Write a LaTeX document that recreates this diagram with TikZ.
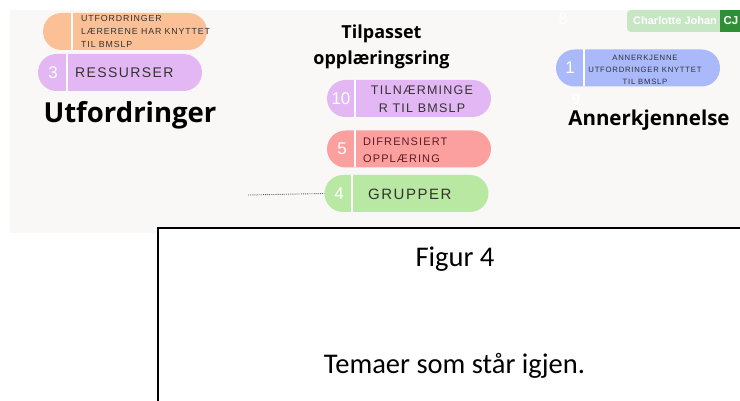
\documentclass[tikz,border=0pt]{standalone}
\usepackage{fontspec}
\setmainfont{Carlito}
\newfontfamily\pillfont[LetterSpace=10]{Liberation Sans}
\newfontfamily\numfont{Liberation Sans}
\newfontfamily\headfont{Open Sans}
\usetikzlibrary{shapes.misc}
\definecolor{bg}{HTML}{F9F8F6}
\definecolor{corange}{HTML}{FCC096}
\definecolor{cpurple}{HTML}{E3B7F3}
\definecolor{cred}{HTML}{FC9F9F}
\definecolor{cgreen}{HTML}{B9E8A2}
\definecolor{cblue}{HTML}{A9B9F9}
\definecolor{ctxt}{HTML}{333333}
\definecolor{credtxt}{HTML}{5A1E24}
\definecolor{tagg}{HTML}{C7E6C3}
\definecolor{cjg}{HTML}{2F8F35}
\begin{document}
\begin{tikzpicture}[x=1pt,y=-1pt,
  pill/.style={rounded rectangle, minimum width=164pt, minimum height=37pt, inner sep=0pt, fill=#1},
  num/.style={text=white, font=\numfont\fontsize{17}{17}\selectfont, inner sep=0pt},
  ptxt/.style={text=ctxt, inner sep=0pt},
  divider/.style={white, line width=1.5pt},
  head/.style={text=black, inner sep=0pt, anchor=base},
  boxtxt/.style={font=\fontsize{28.5}{32}\selectfont, text=black, inner sep=0pt, anchor=base}]
\useasboundingbox (0,0) rectangle (740,401);
\fill[white] (0,0) rectangle (740,401);
\fill[bg] (10,10) rectangle (740,233);

% top right tag
\node[text=white, font=\numfont\fontsize{16}{16}\selectfont, inner sep=0pt] (n8) at (563,19) {8};
\fill[tagg, rounded corners=4pt] (627,10) rectangle (724,32);
\node[text=white, font=\numfont\bfseries\fontsize{11}{11}\selectfont, inner sep=0pt, anchor=west] (cname) at (633,21) {Charlotte Johan};
\fill[cjg] (720,10) rectangle (740,32);
\node[text=white, font=\numfont\bfseries\fontsize{11.5}{11.5}\selectfont, inner sep=0pt] (cj) at (731,21) {CJ};

% orange pill
\node[pill=corange] (po) at (125,31.5) {};
\draw[divider] (72,13) -- (72,50);
\node[ptxt, anchor=west, align=left, font=\pillfont\fontsize{8.8}{13}\selectfont] (to) at (81,31.5) {UTFORDRINGER\\LÆRERENE HAR KNYTTET\\TIL BMSLP};

% purple pill 3
\node[pill=cpurple] (p3) at (120,72.5) {};
\draw[divider] (67,54) -- (67,91);
\node[num] (n3) at (53,72.5) {3};
\node[ptxt, anchor=west, font=\pillfont\fontsize{14}{14}\selectfont] (t3) at (75,73) {RESSURSER};

\node[head, font=\headfont\bfseries\fontsize{27.5}{27.5}\selectfont] (hu) at (130,123) {Utfordringer};

% middle
\node[head, font=\headfont\bfseries\fontsize{18}{18}\selectfont] (ht1) at (381.5,39) {Tilpasset};
\node[head, font=\headfont\bfseries\fontsize{18}{18}\selectfont] (ht2) at (381.5,65) {opplæringsring};

\node[pill=cpurple] (p10) at (409,98.5) {};
\draw[divider] (355,80) -- (355,117);
\node[num] (n10) at (341,98.5) {10};
\node[ptxt, align=center, font=\pillfont\fontsize{12.5}{18}\selectfont] (t10) at (422,99) {TILNÆRMINGE\\R TIL BMSLP};

\node[pill=cred] (p5) at (409,149) {};
\draw[divider] (355,130.5) -- (355,167.5);
\node[num] (n5) at (342,149) {5};
\node[ptxt, anchor=west, align=left, text=credtxt, font=\pillfont\fontsize{11}{17}\selectfont] (t5) at (363,150.5) {DIFRENSIERT\\OPPLÆRING};

\node[pill=cgreen] (p4) at (406.5,193.5) {};
\draw[divider] (352,175) -- (352,212);
\node[num] (n4) at (339,193.5) {4};
\node[ptxt, anchor=west, font=\pillfont\fontsize{15}{15}\selectfont] (t4) at (368,194) {GRUPPER};

\coordinate (dstart) at (248,195);
\draw[densely dotted, line width=0.9pt, black!60] (dstart) -- (p4.west);

% right
\node[pill=cblue] (p1) at (638,68) {};
\draw[divider] (584,49.5) -- (584,86.5);
\node[num] (n1) at (570,68) {1};
\node[ptxt, align=center, font=\pillfont\fontsize{7.7}{12}\selectfont] (t1) at (645,70) {ANNERKJENNE\\UTFORDRINGER KNYTTET\\TIL BMSLP};

\node[text=white, font=\numfont\fontsize{15}{15}\selectfont, inner sep=0pt] (n9) at (576,99) {9};
\node[head, font=\headfont\bfseries\fontsize{20.5}{20.5}\selectfont] (ha) at (649,126) {Annerkjennelse};

% bottom box
\draw[line width=2pt, fill=white] (158,228) rectangle (760,420);
\node[boxtxt] (fig) at (455,266) {Figur 4};
\node[boxtxt] (tem) at (454.5,373) {Temaer som står igjen.};
\end{tikzpicture}
\end{document}
